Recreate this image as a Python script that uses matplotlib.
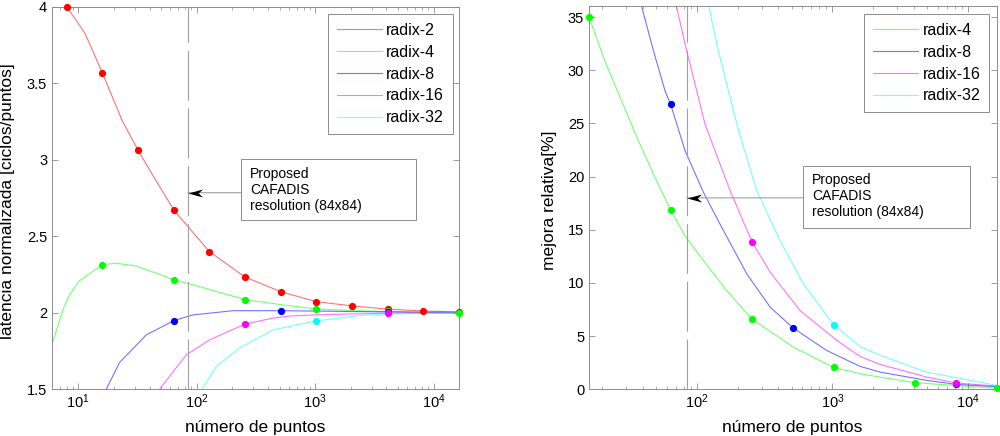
import numpy as np
import matplotlib
matplotlib.use('Agg')
import matplotlib.pyplot as plt
from matplotlib.path import Path
from matplotlib.ticker import FormatStrFormatter

plt.rcParams['font.family'] = ['Liberation Sans', 'DejaVu Sans']
plt.rcParams['mathtext.fontset'] = 'custom'
plt.rcParams['mathtext.rm'] = 'Liberation Sans'

# ---- left panel: latencia normalizada (ciclos/puntos) ----
lat_names = ['radix-2', 'radix-4', 'radix-8', 'radix-16', 'radix-32']

lat_r2_n = [8, 11.4, 16, 23.5, 32, 41.6, 64, 128, 256, 512, 1024, 2048, 4096, 8192, 16384]
lat_r2_v = [4.0, 3.826, 3.567, 3.255, 3.062, 2.912, 2.672, 2.40, 2.234, 2.138, 2.073, 2.045, 2.024, 2.012, 2.006]
lat_r2_mk_n = [8, 16, 32, 64, 128, 256, 512, 1024, 2048, 4096, 8192, 16384]
lat_r2_mk_v = [4.0, 3.567, 3.062, 2.672, 2.40, 2.234, 2.138, 2.073, 2.045, 2.024, 2.012, 2.006]

lat_r4_n = [6.04, 7.41, 8.45, 10.26, 16, 20.9, 30.8, 64, 106, 256, 534, 1024, 2048, 4096, 8192, 16384]
lat_r4_v = [1.80, 2.02, 2.12, 2.21, 2.315, 2.324, 2.306, 2.217, 2.171, 2.086, 2.052, 2.025, 2.015, 2.009, 2.003, 1.997]
lat_r4_mk_n = [16, 64, 256, 1024, 4096, 16384]
lat_r4_mk_v = [2.315, 2.217, 2.086, 2.025, 2.009, 1.997]

lat_r8_n = [17.2, 22.3, 37.5, 64, 92.7, 202, 512, 4096, 16384]
lat_r8_v = [1.5, 1.675, 1.856, 1.949, 1.986, 2.014, 2.014, 2.006, 2.003]
lat_r8_mk_n = [64, 512, 4096]
lat_r8_mk_v = [1.949, 2.014, 2.006]

lat_r16_n = [48.5, 81.5, 128, 256, 439, 607, 1024, 4096, 16384]
lat_r16_v = [1.5, 1.725, 1.823, 1.927, 1.965, 1.979, 1.987, 1.998, 2.0]
lat_r16_mk_n = [256, 4096]
lat_r16_mk_v = [1.927, 1.998]

lat_r32_n = [111, 146, 230, 439, 692, 1024, 2218, 4096, 16384]
lat_r32_v = [1.5, 1.649, 1.77, 1.888, 1.921, 1.947, 1.98, 1.993, 2.0]
lat_r32_mk_n = [1024]
lat_r32_mk_v = [1.947]

# ---- right panel: mejora relativa [%] ----
mej_names = ['radix-4', 'radix-8', 'radix-16', 'radix-32']

mej_r4_n = [16, 21.0, 27.9, 37.1, 49.2, 64, 82, 112, 166, 256, 516, 1024, 1600, 2254, 4096, 4977, 16384]
mej_r4_v = [35.0, 30.83, 27.09, 23.34, 19.9, 16.87, 14.4, 12.1, 9.28, 6.59, 3.96, 2.06, 1.47, 1.15, 0.63, 0.55, 0.1]
mej_r4_mk_n = [16, 64, 256, 1024, 4096, 16384]
mej_r4_mk_v = [35.0, 16.87, 6.59, 2.06, 0.63, 0.1]

mej_r8_n = [39.3, 47.9, 58.4, 64, 82, 112, 148.6, 234, 348, 512, 906, 1600, 2254, 4977, 8192, 16384]
mej_r8_v = [35.9, 31.8, 28.0, 26.8, 22.4, 18.5, 15.5, 10.84, 7.71, 5.78, 3.66, 2.16, 1.62, 0.84, 0.47, 0.25]
mej_r8_mk_n = [64, 512, 8192]
mej_r8_mk_v = [26.8, 5.78, 0.47]

mej_r16_n = [71, 82, 115, 176, 256, 348, 578, 1080, 1600, 2254, 4977, 8192, 16384]
mej_r16_v = [35.9, 32.4, 24.9, 18.65, 13.84, 11.0, 7.40, 4.59, 3.09, 2.34, 1.15, 0.6, 0.3]
mej_r16_mk_n = [256, 8192]
mej_r16_mk_v = [13.84, 0.6]

mej_r32_n = [123, 144, 203, 277, 412, 612, 1024, 1600, 2254, 4977, 16384]
mej_r32_v = [35.9, 31.8, 24.3, 18.65, 13.96, 9.9, 6.06, 4.03, 3.19, 1.62, 0.37]
mej_r32_mk_n = [1024]
mej_r32_mk_v = [6.06]

proposed_n = 84
note_text = 'Proposed\nCAFADIS\nresolution (84x84)'

FRAME = '#8c8c8c'

# arrow head like matlab 'vback', tip at the origin
HEAD = Path([(0, 0), (2, 0.55), (1.4, 0), (2, -0.55), (0, 0)],
            [Path.MOVETO, Path.LINETO, Path.LINETO, Path.LINETO, Path.CLOSEPOLY])


def style_axes(ax):
    ax.set_xscale('log')
    for s in ax.spines.values():
        s.set_color(FRAME)
        s.set_linewidth(0.7)
    ax.tick_params(which='both', direction='in', top=True, right=True,
                   color=FRAME, labelsize=10.5, labelcolor='black')
    ax.tick_params(which='major', length=4, width=0.6)
    ax.tick_params(which='minor', length=2.2, width=0.5)
    ax.tick_params(axis='x', pad=2.5)
    ax.yaxis.set_major_formatter(FormatStrFormatter('%g'))


def draw_series(ax, n, v, mk_n, mk_v, color, name):
    ax.plot(n, v, '-', color=color, lw=0.8, alpha=0.55, label=name)
    if mk_n:
        ax.plot(mk_n, mk_v, 'o', color=color, ms=4.2, mec=color, clip_on=False, zorder=5)


def add_note(ax, box, text_xy, arrow_y):
    # vertical dashed line at the proposed resolution
    ax.axvline(proposed_n, color='#a0a0a0', lw=0.8, dashes=(45, 7))
    x0, x1, y0, y1 = box
    ax.add_patch(plt.Rectangle((x0, y0), x1 - x0, y1 - y0, transform=ax.transAxes,
                               fill=True, fc='white', ec=FRAME, lw=0.7, zorder=6))
    ax.text(text_xy[0], text_xy[1], note_text, transform=ax.transAxes, fontsize=10,
            va='center', ha='left', linespacing=1.2, zorder=7)
    y_ax = ax.transAxes.inverted().transform(ax.transData.transform((proposed_n, arrow_y)))[1]
    ax.annotate('', xy=(proposed_n, arrow_y), xycoords='data',
                xytext=(x0, y_ax), textcoords='axes fraction',
                arrowprops=dict(arrowstyle='-', color='#a0a0a0', lw=0.8,
                                shrinkA=0, shrinkB=0))
    ax.plot([proposed_n], [arrow_y], marker=HEAD, ms=21, color='black', mew=0, zorder=8)


def add_legend(ax, fig, anchor):
    leg = ax.legend(loc='upper left', bbox_to_anchor=anchor, bbox_transform=fig.transFigure,
                    borderaxespad=0, fontsize=11.5, handlelength=2.8, handletextpad=0.3,
                    labelspacing=0.43, borderpad=0.55, fancybox=False, framealpha=1)
    leg.get_frame().set_edgecolor(FRAME)
    leg.get_frame().set_linewidth(0.7)


def main():
    fig = plt.figure(figsize=(10, 4.36), dpi=100)
    colors = ['#ff0000', '#00ff00', '#0000ff', '#ff00ff', '#00ffff']

    # left panel
    ax1 = fig.add_axes([0.052, 0.107, 0.407, 0.8775])
    style_axes(ax1)
    draw_series(ax1, lat_r2_n, lat_r2_v, lat_r2_mk_n, lat_r2_mk_v, colors[0], lat_names[0])
    draw_series(ax1, lat_r4_n, lat_r4_v, lat_r4_mk_n, lat_r4_mk_v, colors[1], lat_names[1])
    draw_series(ax1, lat_r8_n, lat_r8_v, lat_r8_mk_n, lat_r8_mk_v, colors[2], lat_names[2])
    draw_series(ax1, lat_r16_n, lat_r16_v, lat_r16_mk_n, lat_r16_mk_v, colors[3], lat_names[3])
    draw_series(ax1, lat_r32_n, lat_r32_v, lat_r32_mk_n, lat_r32_mk_v, colors[4], lat_names[4])
    ax1.set_xlim(6, 16384)
    ax1.set_ylim(1.5, 4)
    ax1.set_yticks([1.5, 2, 2.5, 3, 3.5, 4])
    ax1.set_xlabel('número de puntos', fontsize=12.5, va='top')
    ax1.set_ylabel('latencia normalizada [ciclos/puntos]', fontsize=12.5)
    ax1.xaxis.set_label_coords(0.4988, -0.080)
    ax1.yaxis.set_label_coords(-0.091, 0.4927)
    add_note(ax1, (0.465, 0.8936, 0.4417, 0.6011), (0.4865, 0.5209), 2.785)
    add_legend(ax1, fig, (0.328, 1 - 14 / 436))

    # right panel
    ax2 = fig.add_axes([0.589, 0.107, 0.408, 0.8784])
    style_axes(ax2)
    draw_series(ax2, mej_r4_n, mej_r4_v, mej_r4_mk_n, mej_r4_mk_v, colors[1], mej_names[0])
    draw_series(ax2, mej_r8_n, mej_r8_v, mej_r8_mk_n, mej_r8_mk_v, colors[2], mej_names[1])
    draw_series(ax2, mej_r16_n, mej_r16_v, mej_r16_mk_n, mej_r16_mk_v, colors[3], mej_names[2])
    draw_series(ax2, mej_r32_n, mej_r32_v, mej_r32_mk_n, mej_r32_mk_v, colors[4], mej_names[3])
    ax2.set_xlim(16, 16384)
    ax2.set_ylim(0, 36)
    ax2.set_yticks([0, 5, 10, 15, 20, 25, 30, 35])
    ax2.set_xlabel('número de puntos', fontsize=12.5, va='top')
    ax2.set_ylabel('mejora relativa[%]', fontsize=12.5)
    ax2.xaxis.set_label_coords(0.4968, -0.081)
    ax2.yaxis.set_label_coords(-0.078, 0.4948)
    add_note(ax2, (0.5252, 0.9346, 0.4222, 0.583), (0.5473, 0.5047), 18.0)
    add_legend(ax2, fig, (0.8643, 1 - 14 / 436))

    fig.savefig('out.png', dpi=100)


if __name__ == '__main__':
    main()
